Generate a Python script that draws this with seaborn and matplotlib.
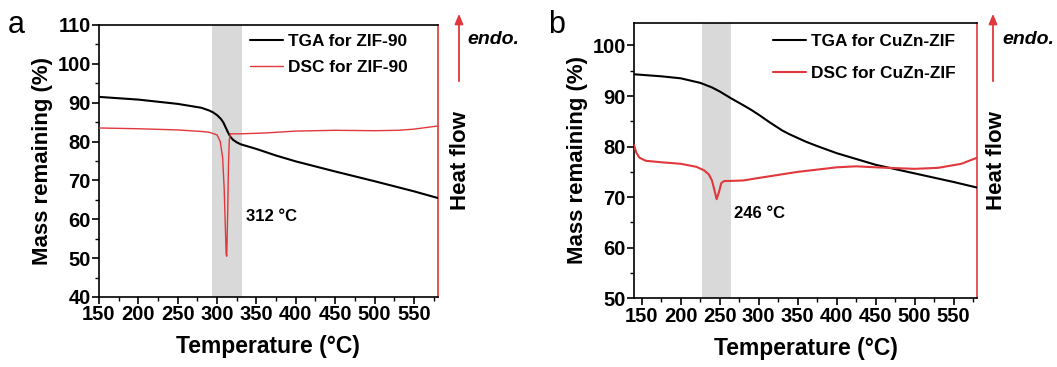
import matplotlib
matplotlib.use("Agg")
import matplotlib.pyplot as plt
from matplotlib.ticker import MultipleLocator
import numpy as np
import pandas as pd
import seaborn as sns

# ---- ZIF-90 ----
tga_a_temp = [150, 200, 250, 280, 290, 295, 300, 305, 308, 311, 314, 317, 320, 325, 330,
              340, 350, 375, 400, 450, 500, 550, 580]
tga_a_mass = [91.5, 90.8, 89.7, 88.7, 88.0, 87.5, 86.8, 85.8, 84.9, 83.6, 82.3, 81.2, 80.5,
              79.8, 79.3, 78.7, 78.1, 76.4, 74.9, 72.3, 69.8, 67.2, 65.5]
dsc_a_temp = [150, 200, 250, 280, 290, 296, 300, 304, 307, 309, 310.5, 311.5, 312.3, 313.5,
              314.5, 315.5, 317, 322, 330, 360, 400, 450, 500, 530, 550, 565, 580]
dsc_a_flow = [83.5, 83.3, 83.0, 82.6, 82.4, 82.0, 81.7, 80.0, 76.0, 68.0, 58.0, 51.0, 50.5,
              62.0, 74.0, 80.5, 82.0, 82.0, 82.0, 82.2, 82.7, 82.9, 82.8, 82.9, 83.2, 83.6, 84.0]

# ---- CuZn-ZIF ----
tga_b_temp = [140, 175, 200, 225, 240, 250, 265, 280, 290, 300, 315, 330, 340, 350, 360, 375,
              400, 450, 500, 550, 580]
tga_b_mass = [94.3, 93.9, 93.5, 92.6, 91.7, 90.9, 89.5, 88.2, 87.3, 86.3, 84.7, 83.2, 82.4,
              81.7, 81.0, 80.1, 78.7, 76.4, 74.7, 73.0, 71.9]
dsc_b_temp = [140, 143, 147, 155, 175, 200, 220, 230, 236, 240, 243, 246, 249, 252, 256, 262,
              280, 300, 350, 400, 425, 450, 500, 530, 560, 580]
dsc_b_flow = [80.3, 78.8, 77.8, 77.2, 76.9, 76.6, 76.0, 75.3, 74.5, 73.3, 71.5, 69.6, 71.0,
              72.8, 73.2, 73.2, 73.3, 73.8, 75.0, 75.9, 76.1, 75.9, 75.6, 75.8, 76.6, 77.8]

x_ticks = [150, 200, 250, 300, 350, 400, 450, 500, 550]

sns.set_style("ticks")
plt.rcParams["font.family"] = ["Liberation Sans", "DejaVu Sans"]
plt.rcParams["font.weight"] = "bold"
for key in ["text.color", "axes.labelcolor", "xtick.color", "ytick.color"]:
    plt.rcParams[key] = "black"

RED = "#e0383c"

fig = plt.figure(figsize=(10.57, 3.67), dpi=100)

panels = [
    dict(rect=[99 / 1057, 1 - 297 / 367, 338.5 / 1057, 272 / 367],
         tga=(tga_a_temp, tga_a_mass), dsc=(dsc_a_temp, dsc_a_flow),
         xlim=(150, 580), ylim=(40, 110), yticks=np.arange(40, 111, 10),
         shade=(293, 332), name="ZIF-90", peak="312 \u00b0C", peak_xy=(337, 60.6),
         letter="a", letter_x=8 / 1057, dsc_lw=1.0,
         leg=(0.446, 0.968), legsp=0.65,
         arrow_x=459 / 1057, endo_x=467 / 1057, heat_x=460 / 1057),
    dict(rect=[634 / 1057, 1 - 298.3 / 367, 343 / 1057, 275.6 / 367],
         tga=(tga_b_temp, tga_b_mass), dsc=(dsc_b_temp, dsc_b_flow),
         xlim=(140, 580), ylim=(50, 104.5), yticks=np.arange(50, 101, 10),
         shade=(227, 265), name="CuZn-ZIF", peak="246 \u00b0C", peak_xy=(268, 66.8),
         letter="b", letter_x=548 / 1057, dsc_lw=1.5,
         leg=(0.405, 0.958), legsp=0.95,
         arrow_x=993 / 1057, endo_x=1002 / 1057, heat_x=997 / 1057),
]

for p in panels:
    ax = fig.add_axes(p["rect"])
    ax.axvspan(*p["shade"], color="#d9d9d9", lw=0, zorder=0)

    tga_df = pd.DataFrame({"T": p["tga"][0], "v": p["tga"][1]})
    dsc_df = pd.DataFrame({"T": p["dsc"][0], "v": p["dsc"][1]})
    sns.lineplot(data=tga_df, x="T", y="v", ax=ax, color="black", lw=1.5,
                 label="TGA for " + p["name"], zorder=3)
    sns.lineplot(data=dsc_df, x="T", y="v", ax=ax, color=RED, lw=p["dsc_lw"],
                 label="DSC for " + p["name"], zorder=3)

    ax.set_xlim(*p["xlim"])
    ax.set_ylim(*p["ylim"])
    ax.set_xticks(x_ticks)
    ax.set_yticks(p["yticks"])
    ax.xaxis.set_minor_locator(MultipleLocator(25))
    ax.yaxis.set_minor_locator(MultipleLocator(5))
    ax.tick_params(which="major", direction="out", length=5, width=1.2,
                   labelsize=14.5, pad=1)
    ax.tick_params(which="minor", direction="out", length=3, width=1.0)
    for lab in ax.get_xticklabels() + ax.get_yticklabels():
        lab.set_fontweight("bold")
    ax.set_xlabel("Temperature (\u00b0C)", fontsize=16.5, fontweight="bold", labelpad=8)
    ax.set_ylabel("Mass remaining (%)", fontsize=16, fontweight="bold", labelpad=3)
    for s in ["left", "bottom", "top"]:
        ax.spines[s].set_visible(True)
        ax.spines[s].set_color("black")
        ax.spines[s].set_linewidth(1.2)
    ax.spines["right"].set_visible(True)
    ax.spines["right"].set_color(RED)
    ax.spines["right"].set_linewidth(1.2)

    ax.text(*p["peak_xy"], p["peak"], fontsize=12, fontweight="bold", va="center", ha="left")

    leg = ax.legend(loc="upper left", bbox_to_anchor=p["leg"], frameon=False,
                    fontsize=12.4, handlelength=1.9, handletextpad=0.3,
                    labelspacing=p["legsp"], borderpad=0, borderaxespad=0)
    for t in leg.get_texts():
        t.set_fontweight("bold")

    # heat flow annotation on the right side
    fig.text(p["heat_x"], p["rect"][1] + p["rect"][3] / 2, "Heat flow",
             rotation=90, fontsize=16, fontweight="bold", ha="center", va="center")
    fig.patches.append(matplotlib.patches.FancyArrowPatch(
        (p["arrow_x"], 1 - 84 / 367), (p["arrow_x"], 1 - 11 / 367),
        transform=fig.transFigure, arrowstyle="-|>,head_length=6,head_width=2.5",
        color=RED, lw=1.3, mutation_scale=1))
    fig.text(p["endo_x"], 1 - 40 / 367, "endo.", fontsize=14, fontweight="bold",
             style="italic", ha="left", va="center")
    fig.text(p["letter_x"], 1 - 25 / 367, p["letter"], fontsize=22, fontweight="normal",
             ha="left", va="center")

fig.savefig("out.png", dpi=100)
